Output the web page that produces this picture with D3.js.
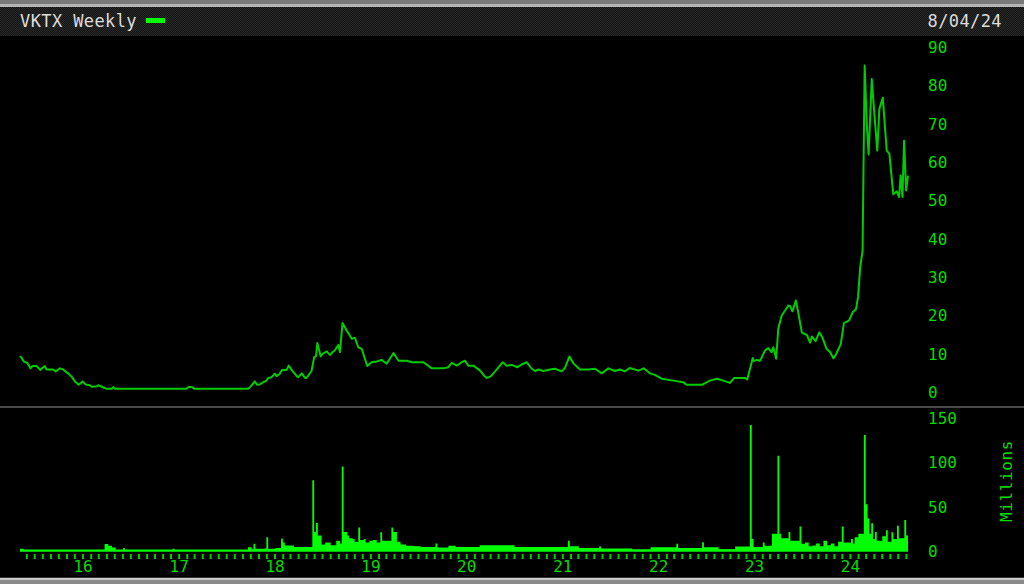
<!DOCTYPE html>
<html><head><meta charset="utf-8">
<script src="https://cdn.jsdelivr.net/npm/d3@7"></script>
<style>html,body{margin:0;padding:0;background:#000;overflow:hidden}</style>
</head><body><svg id="c" width="1024" height="584"></svg>
<script>
const title = "VKTX Weekly";
const dateLabel = "8/04/24";
const volUnitLabel = "Millions";

const priceDates = ["2015-05-08","2015-05-15","2015-05-22","2015-06-05","2015-06-17","2015-06-24","2015-07-10","2015-07-24","2015-08-10","2015-08-17","2015-09-11","2015-09-21","2015-10-01","2015-10-07","2015-10-19","2015-11-07","2015-11-20","2015-12-03","2015-12-18","2016-01-01","2016-01-13","2016-01-29","2016-02-05","2016-02-24","2016-03-01","2016-03-14","2016-03-31","2016-04-21","2016-04-27","2016-05-04","2017-01-31","2017-02-09","2017-02-21","2017-03-01","2017-09-23","2017-10-05","2017-10-18","2017-10-27","2017-11-06","2017-11-19","2017-12-02","2017-12-08","2017-12-21","2018-01-02","2018-01-09","2018-01-19","2018-01-30","2018-02-16","2018-02-24","2018-03-09","2018-03-20","2018-03-27","2018-04-02","2018-04-15","2018-04-27","2018-05-03","2018-05-22","2018-06-01","2018-06-08","2018-06-13","2018-06-26","2018-07-03","2018-07-19","2018-07-31","2018-08-10","2018-08-19","2018-09-01","2018-09-07","2018-09-17","2018-10-03","2018-10-22","2018-11-03","2018-11-16","2018-11-29","2018-12-20","2019-01-06","2019-01-25","2019-02-13","2019-03-04","2019-03-30","2019-04-18","2019-05-20","2019-06-08","2019-07-22","2019-08-23","2019-10-06","2019-10-25","2019-11-07","2019-11-26","2019-12-15","2019-12-27","2020-01-09","2020-01-28","2020-02-23","2020-03-09","2020-03-19","2020-04-03","2020-04-20","2020-05-19","2020-06-03","2020-06-22","2020-07-14","2020-07-30","2020-08-18","2020-09-06","2020-09-19","2020-10-02","2020-10-21","2020-11-15","2020-12-04","2020-12-29","2021-01-11","2021-01-28","2021-02-12","2021-03-09","2021-04-10","2021-05-05","2021-05-31","2021-06-25","2021-07-20","2021-08-08","2021-08-27","2021-09-15","2021-10-17","2021-11-07","2021-11-30","2021-12-19","2022-01-14","2022-02-27","2022-04-06","2022-04-19","2022-06-16","2022-07-17","2022-08-12","2022-09-06","2022-10-01","2022-10-17","2022-11-27","2022-12-06","2022-12-27","2022-12-30","2023-01-11","2023-01-24","2023-02-12","2023-02-24","2023-03-09","2023-03-15","2023-03-26","2023-04-03","2023-04-16","2023-04-29","2023-05-11","2023-05-18","2023-05-27","2023-06-09","2023-06-19","2023-07-02","2023-07-21","2023-08-02","2023-08-09","2023-08-23","2023-09-06","2023-09-17","2023-10-04","2023-10-18","2023-10-30","2023-11-10","2023-11-27","2023-12-09","2023-12-29","2024-01-12","2024-01-24","2024-02-01","2024-02-09","2024-02-18","2024-02-26","2024-03-05","2024-03-12","2024-03-24","2024-04-01","2024-04-14","2024-04-22","2024-05-05","2024-05-20","2024-05-30","2024-06-14","2024-06-27","2024-07-06","2024-07-12","2024-07-19","2024-07-25","2024-08-02","2024-08-09"];
const priceValues = [9.5,9.0,8.1,7.7,6.3,6.9,6.9,5.9,6.9,6.0,6.0,5.5,6.0,6.3,6.0,5.0,4.2,2.9,2.0,2.9,2.1,1.9,1.5,1.6,1.9,1.5,1.0,1.0,1.4,1.0,1.0,1.5,1.4,1.0,1.0,1.8,2.9,2.0,2.1,2.7,3.1,3.8,4.0,4.9,4.3,4.7,5.9,5.9,7.0,5.7,4.9,4.2,4.0,5.0,3.8,3.8,5.6,9.2,9.5,12.9,9.4,10.1,10.7,9.8,10.5,11.0,12.4,10.5,18.1,16.2,14.0,14.3,11.8,11.4,6.9,7.9,8.1,8.5,7.5,10.3,8.3,8.3,7.9,7.9,6.3,6.3,6.6,7.7,7.0,7.9,8.3,7.0,7.0,5.7,4.4,3.8,4.2,5.5,7.9,7.0,7.2,6.6,7.3,7.9,6.2,5.6,6.0,5.6,6.0,6.2,5.5,6.4,9.4,7.6,6.0,6.0,6.2,5.0,6.3,5.6,6.0,5.5,6.4,5.7,6.3,5.0,4.6,3.6,3.1,2.7,2.0,2.0,3.1,3.6,3.1,2.5,3.8,3.8,3.4,9.0,8.2,8.5,8.3,11.0,11.6,10.5,11.8,8.8,16.6,20.1,21.4,22.7,22.5,21.2,24.0,20.5,15.6,15.0,13.0,14.6,13.4,15.7,14.5,11.4,10.5,8.9,10.1,12.6,18.1,18.8,21.0,21.7,25.0,32.7,37.0,85.3,70.1,62.1,81.8,74.4,63.1,74.0,76.9,63.1,62.3,51.7,52.5,51.0,56.6,51.0,65.7,52.7,56.6];

const volDates = ["2015-05-08","2015-05-22","2016-03-18","2016-03-25","2016-04-08","2016-04-22","2016-05-06","2016-06-03","2016-06-10","2016-12-09","2016-12-16","2017-09-22","2017-10-06","2017-10-13","2017-10-20","2017-11-24","2017-12-01","2017-12-08","2018-01-05","2018-01-26","2018-02-02","2018-02-09","2018-03-16","2018-05-25","2018-06-01","2018-06-08","2018-06-15","2018-06-29","2018-07-13","2018-08-03","2018-08-24","2018-09-07","2018-09-14","2018-09-21","2018-10-05","2018-10-12","2018-10-26","2018-11-02","2018-11-16","2018-11-23","2018-12-07","2018-12-14","2018-12-28","2019-01-11","2019-01-25","2019-02-08","2019-02-15","2019-03-22","2019-03-29","2019-04-12","2019-04-26","2019-05-17","2019-06-14","2019-07-12","2019-09-06","2019-09-13","2019-10-25","2019-11-22","2020-02-21","2020-07-03","2021-01-22","2021-01-29","2021-03-05","2021-05-21","2021-05-28","2021-09-24","2021-12-03","2022-03-11","2022-03-18","2022-06-17","2022-06-24","2022-08-19","2022-10-21","2022-12-16","2022-12-23","2022-12-30","2023-02-03","2023-02-10","2023-03-10","2023-03-31","2023-04-07","2023-04-14","2023-05-12","2023-05-19","2023-06-23","2023-06-30","2023-07-14","2023-07-28","2023-08-11","2023-08-25","2023-09-08","2023-09-22","2023-10-06","2023-10-20","2023-11-03","2023-11-17","2023-12-01","2023-12-08","2024-01-05","2024-01-12","2024-01-19","2024-02-02","2024-02-23","2024-03-01","2024-03-08","2024-03-15","2024-03-22","2024-03-29","2024-04-05","2024-04-12","2024-04-19","2024-05-03","2024-05-17","2024-05-24","2024-06-07","2024-06-14","2024-06-28","2024-07-05","2024-07-26","2024-08-02","2024-08-09"];
const volValues = [3,1.5,1.5,8.5,6.5,4.5,1.5,4,1.2,3,1.2,4.8,2.5,8.6,3,3.5,16,3,4,14.2,10,6.7,5,80,22,32,18,8,10,7,12,9,95.5,22,18,15,14,11,27,13,14,10,12,13,10,21.6,12,27,22,11,8,6.5,6,5,9,4.5,6.5,5,7,5,12,6,4,5.6,3.5,2.2,4.8,8.6,4,10.4,4.8,2.5,5.5,142,14,5,10,6.5,20,107.5,20,15,22,12,28,8.6,10,6,6.8,9,6,12,7,9,6,11,28,10,14,9,16,20,131,53,37,20,31.7,14,22,12,12,17,24,11,21.6,14,29,15,35.5,18,18];

const priceTicks = [0,10,20,30,40,50,60,70,80,90];
const volTicks = [0,50,100,150];
const yearTicks = ["2016-01-01","2017-01-01","2018-01-01","2019-01-01","2020-01-01","2021-01-01","2022-01-01","2023-01-01","2024-01-01"];
const yearLabels = ["16","17","18","19","20","21","22","23","24"];

const parse = d3.timeParse("%Y-%m-%d");
const price = priceDates.map((d,i)=>({date:parse(d), value:priceValues[i]}));
const vol = volDates.map((d,i)=>({date:parse(d), value:volValues[i]}));

const svg = d3.select("#c");
const FONT = "'DejaVu Sans Mono', monospace";
const GREEN = "#00dc00";

svg.append("rect").attr("width",1024).attr("height",584).attr("fill","#000");
const defs = svg.append("defs");
const pat = defs.append("pattern").attr("id","chk").attr("width",2).attr("height",2).attr("patternUnits","userSpaceOnUse");
pat.append("rect").attr("width",2).attr("height",2).attr("fill","#121212");
pat.append("rect").attr("width",1).attr("height",1).attr("fill","#2a2a2a");
pat.append("rect").attr("x",1).attr("y",1).attr("width",1).attr("height",1).attr("fill","#2a2a2a");

svg.append("rect").attr("x",0).attr("y",0).attr("width",1024).attr("height",4).attr("fill","#7a7a7a");
svg.append("rect").attr("x",0).attr("y",4).attr("width",1024).attr("height",3).attr("fill","#b4b4b4");
svg.append("rect").attr("x",0).attr("y",7).attr("width",1024).attr("height",29).attr("fill","url(#chk)");
svg.append("text").attr("x",20).attr("y",27).attr("fill","#dcdcdc").attr("font-family",FONT)
  .attr("font-size",17).attr("letter-spacing",0.4).text(title);
svg.append("rect").attr("x",146).attr("y",18).attr("width",19).attr("height",5).attr("fill","#00ff00");
svg.append("text").attr("x",1002).attr("y",27).attr("text-anchor","end").attr("fill","#dcdcdc")
  .attr("font-family",FONT).attr("font-size",17).attr("letter-spacing",0.4).text(dateLabel);

svg.append("rect").attr("x",0).attr("y",406).attr("width",1024).attr("height",2).attr("fill","#4a4a4a");
svg.append("rect").attr("x",0).attr("y",577).attr("width",1024).attr("height",1).attr("fill","#3a3a3a");
svg.append("rect").attr("x",0).attr("y",578).attr("width",1024).attr("height",2).attr("fill","#c8c8c8");
svg.append("rect").attr("x",0).attr("y",580).attr("width",1024).attr("height",4).attr("fill","#8a8a8a");

const x = d3.scaleTime().domain([parse("2015-05-08"), parse("2024-08-09")]).range([20, 908]);
const yP = d3.scaleLinear().domain([0,90]).range([392.5, 47.5]);
const yV = d3.scaleLinear().domain([0,150]).range([551.5, 418]);

const volArea = d3.area().curve(d3.curveStepAfter)
  .x(d=>x(d.date)).y0(yV(0)).y1(d=>yV(d.value));
svg.append("path").datum(vol).attr("d",volArea).attr("fill","#00ff00");
svg.append("line").attr("x1",x(vol[0].date)).attr("x2",x(vol[vol.length-1].date))
  .attr("y1",550.5).attr("y2",550.5).attr("stroke","#00ff00").attr("stroke-width",2);

const line = d3.line().x(d=>x(d.date)).y(d=>yP(d.value));
svg.append("path").datum(price).attr("d",line).attr("fill","none")
  .attr("stroke","#00cc00").attr("stroke-width",2).attr("stroke-linejoin","round");

function styleAxis(g){
  g.select(".domain").remove();
  g.selectAll("text").attr("fill",GREEN).attr("font-family",FONT).attr("font-size",16);
  g.selectAll("line").attr("stroke",GREEN);
}
svg.append("g").attr("transform","translate(920,0)")
  .call(d3.axisRight(yP).tickValues(priceTicks).tickSize(0).tickPadding(8).tickFormat(d3.format("d")))
  .call(styleAxis);
svg.append("g").attr("transform","translate(920,0)")
  .call(d3.axisRight(yV).tickValues(volTicks).tickSize(0).tickPadding(8).tickFormat(d3.format("d")))
  .call(styleAxis);
svg.append("text").attr("transform","translate(1006,481) rotate(-90)").attr("text-anchor","middle")
  .attr("dominant-baseline","central").attr("fill",GREEN).attr("font-family",FONT)
  .attr("font-size",16).attr("letter-spacing",0.6).text(volUnitLabel);

const gx = svg.append("g").attr("transform","translate(0,554)")
  .call(d3.axisBottom(x).ticks(d3.timeMonth.every(1)).tickSize(5).tickFormat(""));
gx.select(".domain").remove();
gx.selectAll("line").attr("stroke","#00d000").attr("stroke-width",2);

const yearDates = yearTicks.map(parse);
const gl = svg.append("g").attr("transform","translate(0,560)")
  .call(d3.axisBottom(x).tickValues(yearDates).tickSize(0).tickPadding(0)
    .tickFormat((d,i)=>yearLabels[i]));
gl.select(".domain").remove();
gl.selectAll("text").attr("fill",GREEN).attr("font-family",FONT).attr("font-size",16).attr("dy","0.71em").attr("y",1);
</script></body></html>
